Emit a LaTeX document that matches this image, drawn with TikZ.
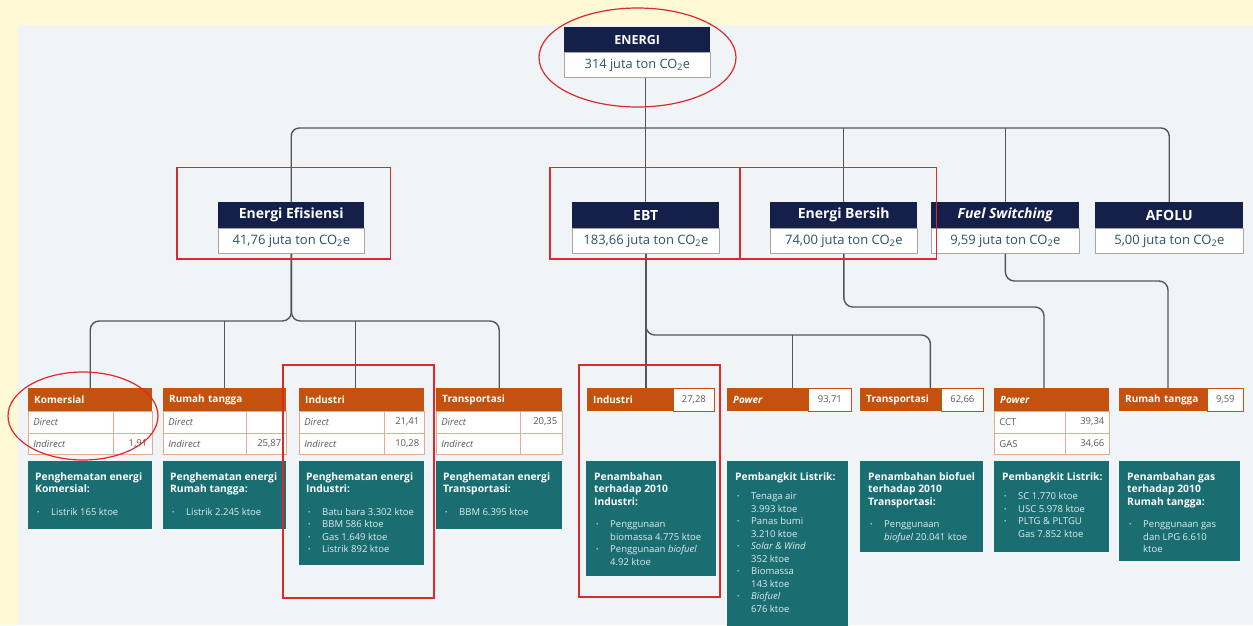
\documentclass[tikz,border=0pt]{standalone}
\usepackage{fontspec}
\setmainfont{Open Sans}
\usepackage{graphicx}
\definecolor{navyc}{RGB}{20,32,74}
\definecolor{orngc}{RGB}{196,82,14}
\definecolor{tealc}{RGB}{26,110,114}
\definecolor{panelc}{RGB}{240,244,246}
\definecolor{outerc}{RGB}{255,249,214}
\definecolor{valtxt}{RGB}{40,84,100}
\definecolor{tblc}{RGB}{228,170,140}
\definecolor{annotc}{RGB}{222,40,44}
\definecolor{wirec}{RGB}{80,88,95}
\definecolor{rowtxt}{RGB}{90,90,90}
\definecolor{bultxt}{RGB}{222,236,236}
\newcommand{\ttl}[1]{{\color{white}\fontsize{10.3}{12.4}\selectfont\bfseries #1}}
\newcommand{\bu}{\hspace*{2pt}\makebox[14pt][l]{\raisebox{0.6pt}{\scalebox{0.65}{\textbullet}}}}
\newcommand{\cn}{\hspace*{16pt}}
\newcommand{\cod}{CO\textsubscript{2}e}
\begin{document}
\begin{tikzpicture}[x=1pt,y=-1pt,
  wire/.style={draw=wirec, line width=1.4},
  hdrtwo/.style={fill=navyc, text=white, font=\bfseries\fontsize{14}{15}\selectfont, minimum width=147, minimum height=26, inner sep=0, anchor=north west},
  valtwo/.style={fill=white, draw=gray!70, line width=0.8, text=valtxt, font=\fontsize{13}{15}\selectfont, minimum width=147, minimum height=25, inner sep=0, anchor=north west},
  hdrthree/.style={fill=orngc, text=white, font=\bfseries\fontsize{10}{12}\selectfont, inner xsep=6, inner ysep=0, minimum height=23, anchor=north west, text width=#1},
  hval/.style={fill=white, draw=orngc, line width=0.7, text=rowtxt, font=\fontsize{9.5}{11}\selectfont, inner sep=0, minimum height=23, minimum width=#1, anchor=north west},
  cellL/.style={fill=white, draw=tblc, line width=0.7, anchor=north west, inner xsep=5, inner ysep=0, minimum height=21.5, text width=#1, font=\itshape\fontsize{9.5}{10}\selectfont, text=rowtxt},
  cellN/.style={fill=white, draw=tblc, line width=0.7, anchor=north west, inner xsep=5, inner ysep=0, minimum height=21.5, text width=#1, font=\fontsize{9.5}{10}\selectfont, text=rowtxt},
  cellR/.style={fill=white, draw=tblc, line width=0.7, anchor=north west, inner xsep=5, inner ysep=0, minimum height=21.5, text width=#1, align=right, font=\fontsize{9.5}{10}\selectfont, text=rowtxt},
  tbox/.style={fill=tealc, inner sep=0, anchor=north west},
  ttext/.style={text=bultxt, align=left, anchor=north west, inner sep=0, font=\fontsize{9.5}{12.5}\selectfont},
  redmark/.style={draw=annotc, line width=1.2}
]
\useasboundingbox (0,0) rectangle (1253,625);
\clip (0,0) rectangle (1253,625);
\fill[outerc] (0,0) rectangle (1253,625);
\fill[panelc] (18,25) rectangle (1253,625);

% ---------- top ----------
\node[hdrtwo, minimum width=146, minimum height=25, font=\bfseries\fontsize{12.5}{14}\selectfont] (energi) at (564,27) {ENERGI};
\node[valtwo, minimum width=146, font=\fontsize{12.8}{14}\selectfont] (energi-v) at (564,52) {314 juta ton \cod};

% ---------- level 2 ----------
\node[hdrtwo, minimum width=146] (ee) at (218,202) {Energi Efisiensi};
\node[valtwo, minimum width=146] (ee-v) at (218,228) {41,76 juta ton \cod};
\node[hdrtwo] (ebt) at (572,202) {EBT};
\node[valtwo] (ebt-v) at (572,228) {183,66 juta ton \cod};
\node[hdrtwo] (eb) at (770,202) {Energi Bersih};
\node[valtwo] (eb-v) at (770,228) {74,00 juta ton \cod};
\node[hdrtwo, minimum width=148] (fs) at (931,202) {\itshape Fuel Switching};
\node[valtwo, minimum width=148] (fs-v) at (931,228) {9,59 juta ton \cod};
\node[hdrtwo, minimum width=148] (afolu) at (1095,202) {AFOLU};
\node[valtwo, minimum width=148] (afolu-v) at (1095,228) {5,00 juta ton \cod};

% ---------- level 3 : Energi Efisiensi ----------
\node[hdrthree=112] (kom) at (28,388) {Komersial};
\node[cellL=75] (kom-d) at (28,411) {Direct};
\node[cellR=29] (kom-dv) at (113,411) {};
\node[cellL=75] (kom-i) at (28,432.5) {Indirect};
\node[cellR=29] (kom-iv) at (113,432.5) {1,91};

\node[hdrthree=111] (rt1) at (163,388) {Rumah tangga};
\node[cellL=73] (rt1-d) at (163,411) {Direct};
\node[cellR=30] (rt1-dv) at (246,411) {};
\node[cellL=73] (rt1-i) at (163,432.5) {Indirect};
\node[cellR=30] (rt1-iv) at (246,432.5) {25,87};

\node[hdrthree=113] (ind1) at (299,388) {Industri};
\node[cellL=75] (ind1-d) at (299,411) {Direct};
\node[cellR=30] (ind1-dv) at (384,411) {21,41};
\node[cellL=75] (ind1-i) at (299,432.5) {Indirect};
\node[cellR=30] (ind1-iv) at (384,432.5) {10,28};

\node[hdrthree=114] (trn1) at (436,388) {Transportasi};
\node[cellL=74] (trn1-d) at (436,411) {Direct};
\node[cellR=32] (trn1-dv) at (520,411) {20,35};
\node[cellL=74] (trn1-i) at (436,432.5) {Indirect};
\node[cellR=32] (trn1-iv) at (520,432.5) {};

% ---------- level 3 : EBT / Energi Bersih / Fuel Switching ----------
\node[hdrthree=74] (ind2) at (587,388) {Industri};
\node[hval=41] (ind2-v) at (673,388) {27,28};
\node[hdrthree=69] (pw1) at (727,388) {\itshape Power};
\node[hval=43] (pw1-v) at (808,388) {93,71};
\node[hdrthree=69] (tr2) at (860,388) {Transportasi};
\node[hval=42] (tr2-v) at (941,388) {62,66};

\node[hdrthree=103] (pw2) at (994,388) {\itshape Power};
\node[cellN=61] (pw2-a) at (994,411) {CCT};
\node[cellR=34] (pw2-av) at (1065,411) {39,34};
\node[cellN=61] (pw2-b) at (994,432.5) {GAS};
\node[cellR=34] (pw2-bv) at (1065,432.5) {34,66};

\node[hdrthree=76] (rt2) at (1119,388) {Rumah tangga};
\node[hval=36] (rt2-v) at (1207,388) {9,59};

% ---------- teal boxes ----------
\node[tbox, minimum width=124, minimum height=68] (tb1) at (28,461) {};
\node[ttext] (tt1) at ([xshift=7,yshift=-11]tb1.north west) {\ttl{Penghematan energi}\\ \ttl{Komersial:}\\[10pt] \bu Listrik 165 ktoe};
\node[tbox, minimum width=123, minimum height=68] (tb2) at (163,461) {};
\node[ttext] (tt2) at ([xshift=7,yshift=-11]tb2.north west) {\ttl{Penghematan energi}\\ \ttl{Rumah tangga:}\\[10pt] \bu Listrik 2.245 ktoe};
\node[tbox, minimum width=125, minimum height=104] (tb3) at (299,461) {};
\node[ttext] (tt3) at ([xshift=7,yshift=-11]tb3.north west) {\ttl{Penghematan energi}\\ \ttl{Industri:}\\[10pt] \bu Batu bara 3.302 ktoe\\ \bu BBM 586 ktoe\\ \bu Gas 1.649 ktoe\\ \bu Listrik 892 ktoe};
\node[tbox, minimum width=126, minimum height=68] (tb4) at (436,461) {};
\node[ttext] (tt4) at ([xshift=7,yshift=-11]tb4.north west) {\ttl{Penghematan energi}\\ \ttl{Transportasi:}\\[10pt] \bu BBM 6.395 ktoe};
\node[tbox, minimum width=130, minimum height=115] (tb5) at (586,461) {};
\node[ttext] (tt5) at ([xshift=8,yshift=-11]tb5.north west) {\ttl{Penambahan}\\ \ttl{terhadap 2010}\\ \ttl{Industri:}\\[10pt] \bu Penggunaan\\ \cn biomassa 4.775 ktoe\\ \bu Penggunaan \textit{biofuel}\\ \cn 4.92 ktoe};
\node[tbox, minimum width=121, minimum height=180] (tb6) at (727,461) {};
\node[ttext] (tt6) at ([xshift=8,yshift=-11]tb6.north west) {\ttl{Pembangkit Listrik:}\\[7pt] \bu Tenaga air\\ \cn 3.993 ktoe\\ \bu Panas bumi\\ \cn 3.210 ktoe\\ \bu \textit{Solar \& Wind}\\ \cn 352 ktoe\\ \bu Biomassa\\ \cn 143 ktoe\\ \bu \textit{Biofuel}\\ \cn 676 ktoe};
\node[tbox, minimum width=123, minimum height=91] (tb7) at (860,461) {};
\node[ttext] (tt7) at ([xshift=8,yshift=-11]tb7.north west) {\ttl{Penambahan biofuel}\\ \ttl{terhadap 2010}\\ \ttl{Transportasi:}\\[10pt] \bu Penggunaan\\ \cn \textit{biofuel} 20.041 ktoe};
\node[tbox, minimum width=115, minimum height=91] (tb8) at (994,461) {};
\node[ttext] (tt8) at ([xshift=8,yshift=-11]tb8.north west) {\ttl{Pembangkit Listrik:}\\[7pt] \bu SC 1.770 ktoe\\ \bu USC 5.978 ktoe\\ \bu PLTG \& PLTGU\\ \cn Gas 7.852 ktoe};
\node[tbox, minimum width=121, minimum height=100] (tb9) at (1119,461) {};
\node[ttext] (tt9) at ([xshift=8,yshift=-11]tb9.north west) {\ttl{Penambahan gas}\\ \ttl{terhadap 2010}\\ \ttl{Rumah tangga:}\\[10pt] \bu Penggunaan gas\\ \cn dan LPG 6.610\\ \cn ktoe};

% ---------- connectors ----------
\coordinate (bus1) at (0,128);
\coordinate (bus2) at (0,321);
\coordinate (bus3) at (0,335);
\coordinate (bus4) at (0,307);
\coordinate (bus5) at (0,281);
\coordinate (tr2drop) at ([xshift=-11]tr2.north east);
\coordinate (pw1drop) at ([xshift=-16]pw1.north east);
\coordinate (pw2drop) at ([xshift=50]pw2.north west);
\coordinate (rt2drop) at ([xshift=49]rt2.north west);
\coordinate (ind1drop) at ([xshift=-6]ind1.north);

\draw[wire] (ebt.north |- energi-v.south) -- (ebt.north);
\draw[wire, rounded corners=8] (ee.north) -- (ee.north |- bus1) -- (afolu.north |- bus1) -- (afolu.north);
\draw[wire] (eb.north |- bus1) -- (eb.north);
\draw[wire] (fs.north |- bus1) -- (fs.north);

\draw[wire, rounded corners=9] (ee-v.south) -- (ee-v.south |- bus2) -- (kom.north |- bus2) -- (kom.north);
\draw[wire, rounded corners=9] (ee-v.south) -- (ee-v.south |- bus2) -- (trn1.north |- bus2) -- (trn1.north);
\draw[wire] (rt1.north |- bus2) -- (rt1.north);
\draw[wire] (ind1drop |- bus2) -- (ind1drop);

\draw[wire] (ebt-v.south) -- (ebt-v.south |- ind2.north);
\draw[wire, rounded corners=9] (ebt-v.south) -- (ebt-v.south |- bus3) -- (tr2drop |- bus3) -- (tr2drop);
\draw[wire] (pw1drop |- bus3) -- (pw1drop);
\draw[wire, rounded corners=9] (eb-v.south) -- (eb-v.south |- bus4) -- (pw2drop |- bus4) -- (pw2drop);
\draw[wire, rounded corners=9] (fs-v.south) -- (fs-v.south |- bus5) -- (rt2drop |- bus5) -- (rt2drop);

% ---------- red annotations ----------
\draw[redmark] (637.5,57.5) ellipse [x radius=98.5, y radius=49.5];
\draw[redmark] (177,167.5) rectangle (390.5,259);
\draw[redmark] (550,167.5) rectangle (740,259);
\draw[redmark] (740,167.5) rectangle (936.5,259);
\draw[redmark] (83,416) ellipse [x radius=75, y radius=44];
\draw[redmark] (283,365) rectangle (434,598);
\draw[redmark] (579,365) rectangle (720,597);
\end{tikzpicture}
\end{document}
